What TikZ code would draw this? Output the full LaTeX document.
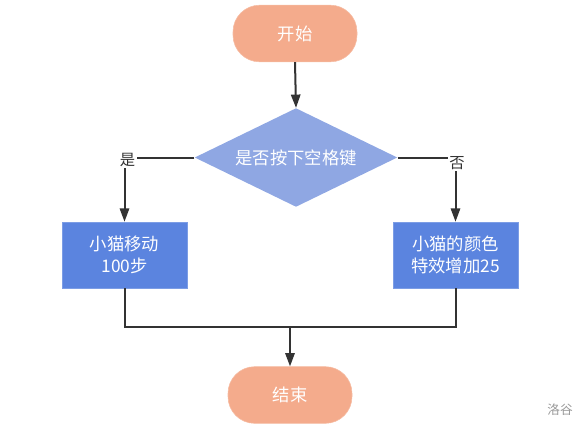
\documentclass[tikz,border=0pt]{standalone}
\usepackage{fontspec}
\setmainfont{Noto Sans CJK SC}
\usetikzlibrary{shapes.geometric,arrows.meta}
\definecolor{salmon}{HTML}{F4AB8C}
\definecolor{diafill}{HTML}{8FA7E3}
\definecolor{boxfill}{HTML}{5B84DF}
\definecolor{linec}{HTML}{333333}
\begin{document}
\begin{tikzpicture}[x=0.75pt,y=-0.75pt,
  term/.style={rounded corners=20pt,fill=salmon,draw=salmon!80!white,text=white,minimum width=93pt,minimum height=42.5pt,inner sep=0pt,font=\fontsize{13}{15}\selectfont},
  dec/.style={diamond,aspect=2.05,fill=diafill,text=white,inner sep=0pt,minimum width=152pt,minimum height=74pt,font=\fontsize{13}{15}\selectfont},
  proc/.style={rectangle,fill=boxfill,draw=boxfill!80!white,text=white,minimum width=93.5pt,minimum height=49.5pt,inner sep=0pt,align=center,font=\fontsize{13}{16.5}\selectfont},
  lab/.style={text=linec,inner sep=1pt,font=\fontsize{11.5}{13}\selectfont},
  conn/.style={draw=linec,line width=1.5pt},
  arr/.style={conn,-{Triangle[width=7pt,length=10pt]}}]
\useasboundingbox (0,0) rectangle (588,433);
\node[term] (start) at (295,33.5) {开始};
\node[dec] (dia) at (296,157.5) {是否按下空格键};
\node[proc] (left) at (124.5,255) {小猫移动\\100步};
\node[proc] (right) at (455.5,255) {小猫的颜色\\特效增加25};
\node[term] (end) at (290,395) {结束};
\node[lab] (yes) at (127.5,160) {是};
\node[lab] (no) at (457,163) {否};
\node[text=gray!80,inner sep=0pt,font=\fontsize{9.5}{11}\selectfont] (logo) at (560,410) {洛谷};
\coordinate (merge) at (290,327);
\draw[arr] (start.south) -- (dia.north);
\draw[conn] (dia.west) -- (dia.west -| yes.east);
\draw[conn] (dia.east) -- (dia.east -| no.west);
\draw[arr] (yes.south -| left.north) -- (left.north);
\draw[arr] (no.south -| right.north) -- (right.north);
\draw[conn] (left.south) |- (merge) -| (right.south);
\draw[arr] (merge) -- (end.north);
\end{tikzpicture}
\end{document}
